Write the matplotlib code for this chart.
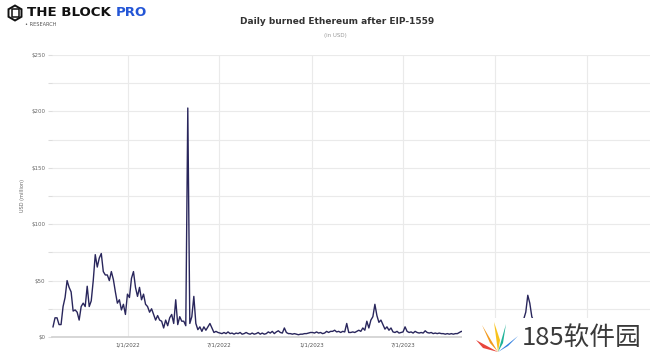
import matplotlib
matplotlib.use("Agg")
import matplotlib.pyplot as plt
from matplotlib.patches import Polygon, Rectangle
from matplotlib.ticker import FuncFormatter, MultipleLocator
import numpy as np
import pandas as pd

# daily burn, one value every 4 days from 2021-08-05 (USD million)
burn_2021 = [9, 17, 17, 11, 11, 27, 35, 50, 44, 40, 23, 24, 22, 15, 27, 30,
             27, 45, 27, 32, 50, 73, 62, 70, 74, 58, 55, 55, 50, 58, 51, 40,
             30, 33, 24, 29, 20, 38]
burn_2022 = [35, 52, 58, 44, 36, 44, 33, 38, 29, 27, 22, 25, 20, 15, 19, 15,
             14, 8, 15, 10, 17, 20, 12, 33, 11, 18, 14, 14, 10, 203, 12, 18,
             36, 12, 6.5, 9, 5, 9, 6, 9, 12, 8, 4, 5, 4, 3.5,
             3, 4, 3, 4.5, 3, 3.5, 2.5, 3.5, 3, 4, 2.5, 3, 4, 3, 2.5, 3.5,
             2.5, 3, 4, 2.5, 3.5, 2.5, 3, 4.5, 3.5, 5, 3, 4.5, 5.5, 4, 3.5, 8,
             4, 3, 3, 2.5, 3, 2.5, 2, 2.5, 2.5, 3, 3, 3.5, 4, 4]
burn_2023 = [3.5, 4.5, 3.5, 4, 3, 3.5, 5, 4, 5, 5, 6, 4.5, 5, 4, 5, 4.5,
             12, 4, 4, 4.5, 4, 5, 6, 5, 8, 6, 14, 8, 15, 18, 29, 19,
             13, 15, 11, 7, 9, 6, 8, 4.5, 4, 5, 3.5, 4, 4.5, 9, 5, 4,
             4.5, 3.5, 5, 4, 3.5, 4, 3.5, 5.5, 4, 3.5, 4, 3, 3.5, 3, 3.5, 3,
             3, 2.5, 3, 2.5, 3, 2.5, 3, 3, 4, 5, 4.5, 6, 5, 7, 5.5, 6,
             8, 6, 5, 7, 6, 5, 4.5, 5, 6, 4.5]
burn_2024 = [5, 4, 5, 6, 5.5, 7, 6, 8, 7, 9, 10, 12, 11, 14, 16, 22,
             37, 30, 18, 14, 10, 8, 7, 5, 4, 3.5, 3, 2.5, 3, 2.5, 2, 2.5,
             2, 2, 1.5, 2, 2.5, 2, 1.5, 2, 1.5, 1.5, 2, 1.5, 1.5, 2, 1.5, 2,
             1.5, 1.5, 2, 1.5, 1.5, 2, 1.5, 1.5]
burn = burn_2021 + burn_2022 + burn_2023 + burn_2024
dates = pd.date_range("2021-08-05", periods=len(burn), freq="4D")

half_years = pd.to_datetime(["2022-01-01", "2022-07-01", "2023-01-01",
                             "2023-07-01", "2024-01-01", "2024-07-01"])
# the 2024 labels sit under the watermark in the reference
half_labels = ["1/1/2022", "7/1/2022", "1/1/2023", "7/1/2023", "", ""]
W, H = 660, 362


def px(x, y):
    # pixel position (from top left) -> figure fraction
    return x / W, 1 - y / H


fig = plt.figure(figsize=(6.6, 3.62), dpi=100)
ax = fig.add_axes([52 / W, 1 - 337 / H, 598 / W, 282 / H])

ax.plot(dates, burn, color="#29265c", lw=1.0, zorder=3)

ax.set_xlim(pd.Timestamp("2021-08-03"), pd.Timestamp("2024-11-04"))
ax.set_ylim(0, 250)
ax.yaxis.set_major_locator(MultipleLocator(25))
ax.yaxis.set_major_formatter(FuncFormatter(
    lambda v, p: "$%d" % v if v % 50 == 0 else ""))
ax.set_xticks(half_years)
ax.set_xticklabels(half_labels)
ax.grid(True, color="#eaeaea", lw=0.8)
ax.set_axisbelow(True)
for s in ["top", "right", "left"]:
    ax.spines[s].set_visible(False)
ax.spines["bottom"].set_color("#d0d0d0")
ax.spines["bottom"].set_linewidth(1.2)
ax.tick_params(axis="y", length=3, color="#dddddd", labelsize=4, labelcolor="#666666", pad=2)
ax.tick_params(axis="x", length=0, labelsize=4, labelcolor="#555555", pad=4)
ax.set_ylabel("USD (million)", fontsize=3.6, color="#666666", labelpad=4)

# title
fig.text(*px(337, 22), "Daily burned Ethereum after EIP-1559", ha="center", va="center",
         fontsize=6.5, fontweight="bold", color="#333333")
fig.text(*px(335, 36), "(in USD)", ha="center", va="center", fontsize=4, color="#999999")

# logo
fig.text(*px(27, 13), "THE BLOCK", ha="left", va="center", fontsize=9.6,
         fontweight="bold", color="#111111")
fig.text(*px(116, 13), "PRO", ha="left", va="center", fontsize=9.6,
         fontweight="bold", color="#2456d6")
fig.text(*px(25, 25), "• RESEARCH", ha="left", va="center", fontsize=3.6, color="#555555")
ang = np.deg2rad(np.arange(6) * 60 + 30)
hexagon = [px(15 + 7.5 * np.cos(a), 13 + 7.5 * np.sin(a)) for a in ang]
fig.patches.append(Polygon(hexagon, closed=True, transform=fig.transFigure,
                           fill=False, ec="#111111", lw=1.4))
fig.patches.append(Rectangle(px(11.5, 16.5), 7 / W, 7 / H, transform=fig.transFigure,
                             fill=False, ec="#111111", lw=1.1))

# watermark
fig.patches.append(Rectangle(px(462, 358), 190 / W, 40 / H, transform=fig.transFigure,
                             fc="white", ec="none", zorder=5))
base = (498, 352)
fan = [((476, 340), (483, 348), "#e8453c"), ((482, 325), (490, 343), "#f39a1e"),
       ((494, 322), (500, 340), "#f8c21c"), ((506, 324), (503, 343), "#1fb39a"),
       ((518, 336), (508, 346), "#2f7fe0")]
for tip, side, col in fan:
    fig.patches.append(Polygon([px(*base), px(*tip), px(*side)], closed=True,
                               transform=fig.transFigure, fc=col, ec="none", zorder=6))
fig.text(*px(522, 338), "185软件园", ha="left", va="center", fontsize=18.5, color="#3a3a3a",
         family=["Noto Sans CJK SC", "DejaVu Sans"], zorder=7)

fig.savefig("out.png", dpi=100)
